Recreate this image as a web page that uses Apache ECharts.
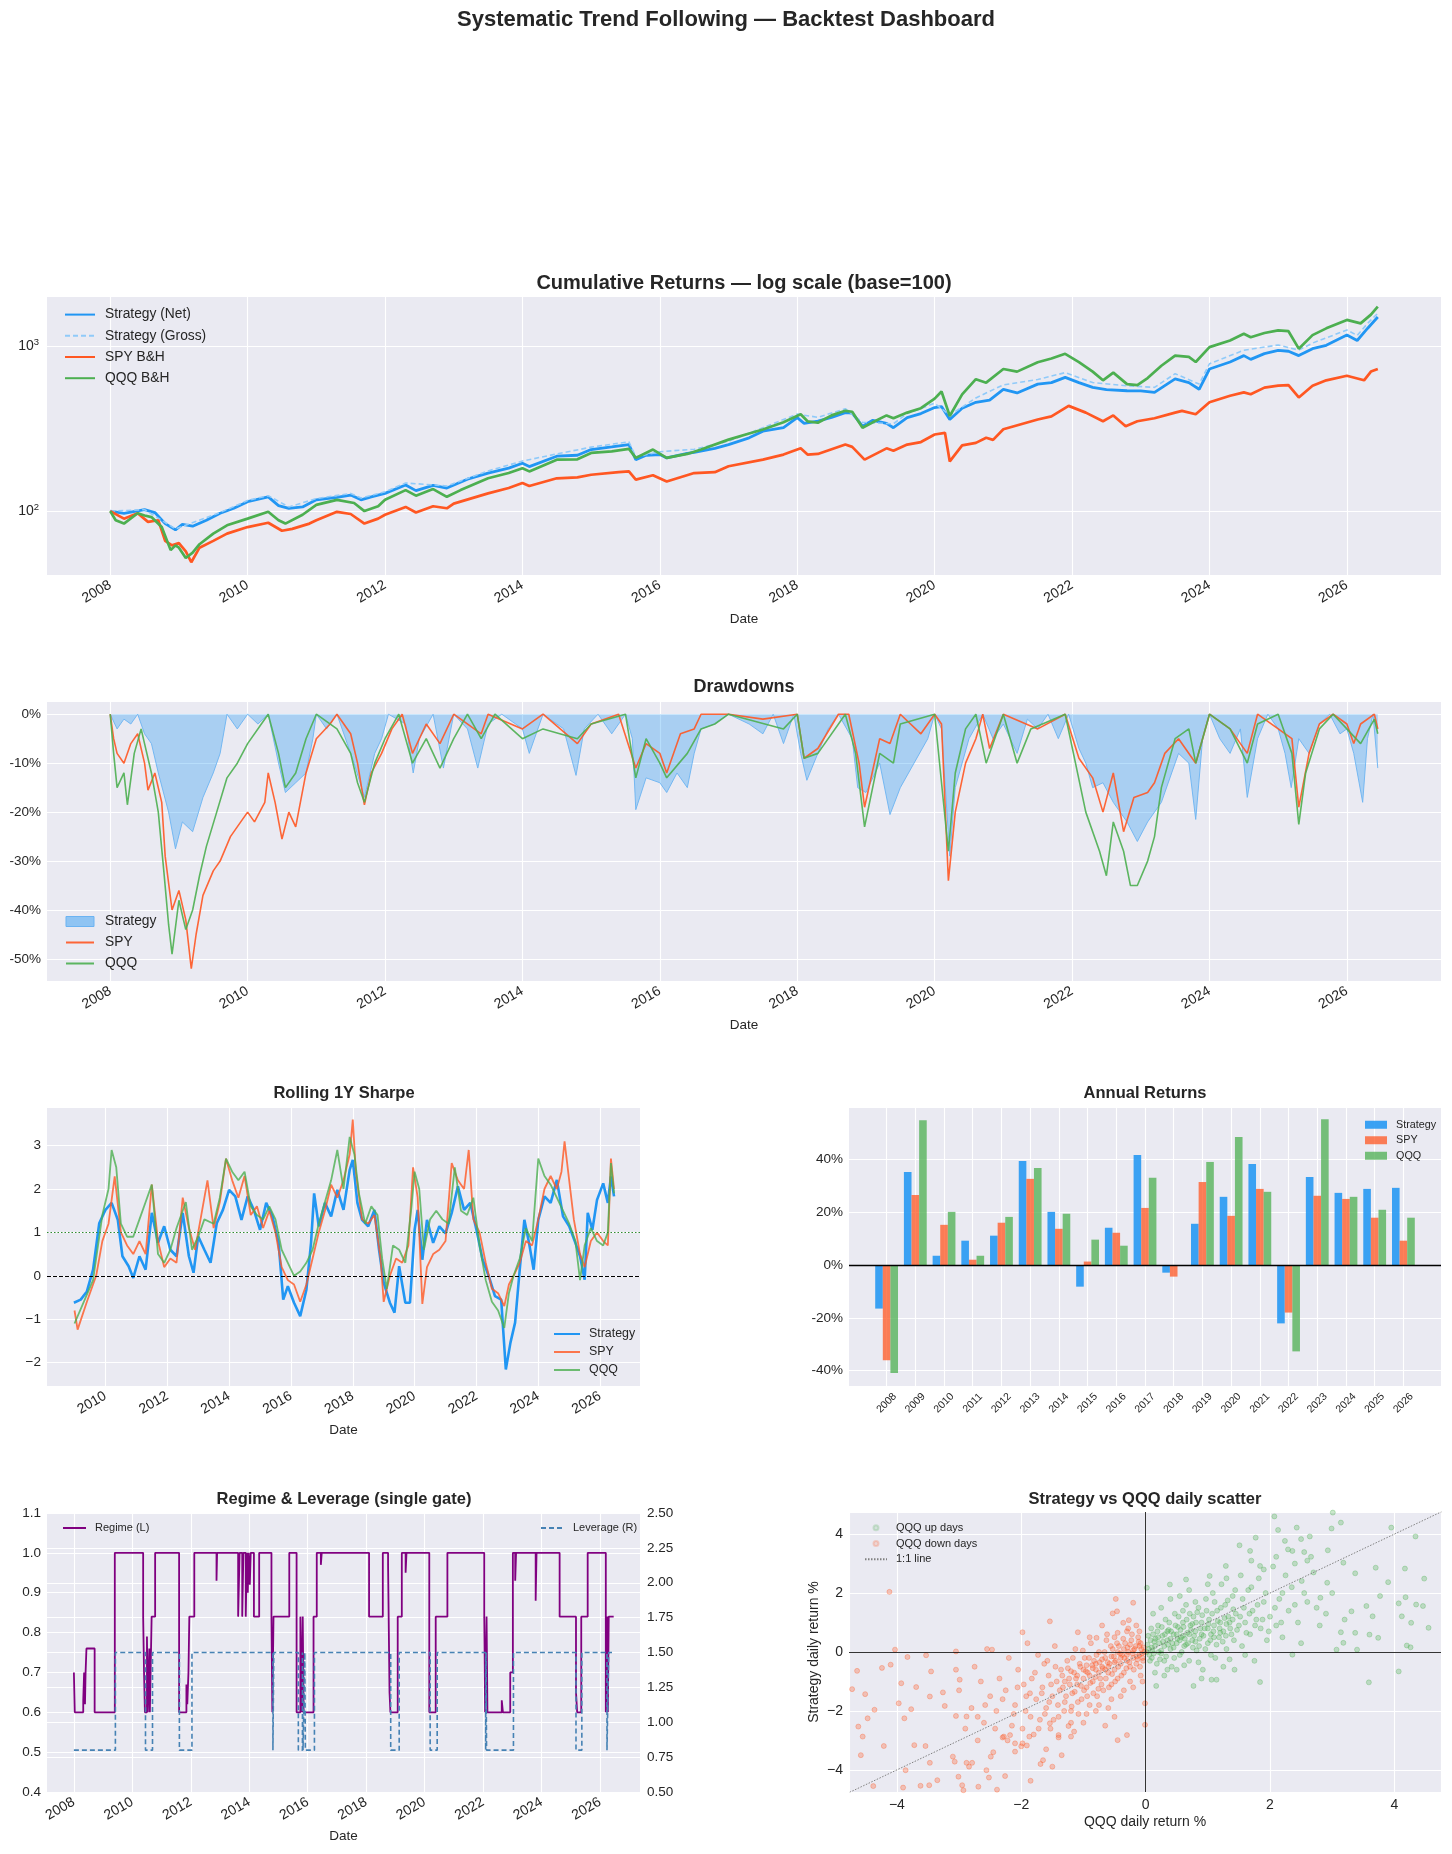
<!DOCTYPE html>
<html><head><meta charset="utf-8">
<script src="https://cdn.jsdelivr.net/npm/echarts@6/dist/echarts.min.js"></script>
<style>html,body{margin:0;padding:0;background:#fff}#c{width:1452px;height:1854px}</style>
</head><body><div id="c"></div>
<script>
// ---------------- DATA ----------------
const evenYears = [2008,2010,2012,2014,2016,2018,2020,2022,2024,2026];

const cumStrategyNet = [[2008.0,100],[2008.2,97],[2008.5,102],[2008.65,98],[2008.8,84],[2008.95,77],[2009.05,83],[2009.2,81],[2009.4,88],[2009.6,97],[2009.8,104],[2010.0,114],[2010.3,122],[2010.45,108],[2010.6,104],[2010.8,106],[2011.0,117],[2011.3,121],[2011.5,125],[2011.65,117],[2011.8,122],[2012.0,128],[2012.3,144],[2012.45,133],[2012.7,143],[2012.9,138],[2013.2,156],[2013.5,170],[2013.8,182],[2014.0,195],[2014.1,186],[2014.5,215],[2014.8,218],[2015.0,236],[2015.3,245],[2015.55,253],[2015.65,205],[2015.8,218],[2016.0,220],[2016.1,210],[2016.4,224],[2016.5,227],[2016.8,240],[2017.0,253],[2017.3,278],[2017.5,305],[2017.8,320],[2018.0,368],[2018.1,340],[2018.3,351],[2018.5,370],[2018.7,395],[2018.8,392],[2018.95,327],[2019.1,355],[2019.3,340],[2019.4,320],[2019.6,368],[2019.8,390],[2020.0,424],[2020.1,430],[2020.22,359],[2020.4,420],[2020.6,456],[2020.8,470],[2021.0,547],[2021.2,520],[2021.5,588],[2021.7,600],[2021.9,646],[2022.1,600],[2022.3,562],[2022.5,545],[2022.8,536],[2023.0,535],[2023.2,524],[2023.5,632],[2023.7,600],[2023.85,547],[2024.0,726],[2024.3,800],[2024.5,875],[2024.6,830],[2024.8,900],[2025.0,940],[2025.15,930],[2025.3,875],[2025.5,964],[2025.7,1010],[2026.0,1165],[2026.15,1080],[2026.3,1278],[2026.45,1500]];
const cumStrategyGross = [[2008.0,100],[2008.5,102],[2008.95,78],[2009.6,98],[2010.0,116],[2010.3,124],[2010.6,106],[2011.0,119],[2011.5,128],[2011.65,120],[2012.0,131],[2012.3,148],[2012.9,142],[2013.5,175],[2014.0,201],[2014.5,222],[2015.0,244],[2015.55,263],[2015.65,213],[2016.0,229],[2016.5,237],[2017.0,265],[2017.5,320],[2018.0,387],[2018.3,370],[2018.7,417],[2018.95,345],[2019.4,338],[2019.6,390],[2020.0,450],[2020.22,381],[2020.6,485],[2021.0,582],[2021.5,627],[2021.9,690],[2022.3,601],[2022.8,574],[2023.2,562],[2023.5,680],[2023.85,588],[2024.0,781],[2024.5,943],[2025.0,1015],[2025.3,945],[2025.5,1042],[2026.0,1250],[2026.15,1160],[2026.3,1370],[2026.45,1580]];
const cumSPY = [[2008.0,100],[2008.2,90],[2008.4,97],[2008.55,86],[2008.7,88],[2008.8,66],[2008.9,62],[2009.0,64],[2009.1,57],[2009.18,49],[2009.3,60],[2009.5,66],[2009.7,73],[2010.0,80],[2010.3,85],[2010.5,76],[2010.65,78],[2010.9,84],[2011.0,88],[2011.3,99],[2011.5,96],[2011.7,84],[2011.9,90],[2012.0,95],[2012.3,106],[2012.45,98],[2012.7,107],[2012.9,104],[2013.0,111],[2013.5,128],[2013.8,138],[2014.0,148],[2014.1,142],[2014.5,158],[2014.8,160],[2015.0,166],[2015.4,172],[2015.55,174],[2015.65,155],[2015.9,165],[2016.1,151],[2016.5,170],[2016.8,172],[2017.0,187],[2017.5,205],[2017.8,220],[2018.05,240],[2018.15,220],[2018.3,222],[2018.7,253],[2018.8,245],[2018.98,205],[2019.3,240],[2019.4,232],[2019.6,253],[2019.8,262],[2020.0,291],[2020.15,298],[2020.22,200],[2020.4,250],[2020.6,259],[2020.75,278],[2020.85,270],[2021.0,313],[2021.5,359],[2021.7,375],[2021.95,434],[2022.2,395],[2022.45,350],[2022.6,380],[2022.78,327],[2022.95,350],[2023.2,365],[2023.5,395],[2023.6,405],[2023.8,386],[2024.0,456],[2024.3,500],[2024.5,524],[2024.6,510],[2024.8,560],[2025.0,575],[2025.15,580],[2025.3,488],[2025.5,575],[2025.7,620],[2026.0,661],[2026.25,620],[2026.35,700],[2026.45,726]];
const cumQQQ = [[2008.0,100],[2008.08,88],[2008.2,84],[2008.4,97],[2008.5,94],[2008.6,92],[2008.75,80],[2008.88,58],[2008.95,62],[2009.0,60],[2009.1,52],[2009.2,56],[2009.3,63],[2009.5,73],[2009.7,82],[2010.0,90],[2010.3,99],[2010.45,88],[2010.55,84],[2010.8,95],[2011.0,109],[2011.3,117],[2011.55,112],[2011.7,100],[2011.9,107],[2012.0,117],[2012.3,134],[2012.45,124],[2012.7,136],[2012.9,122],[2013.1,134],[2013.5,158],[2013.8,170],[2014.0,182],[2014.1,174],[2014.5,205],[2014.8,206],[2015.0,225],[2015.3,230],[2015.55,238],[2015.65,210],[2015.9,236],[2016.1,210],[2016.4,222],[2016.6,236],[2017.0,271],[2017.3,295],[2017.5,312],[2017.8,345],[2018.05,386],[2018.15,350],[2018.3,343],[2018.5,380],[2018.7,405],[2018.8,400],[2018.95,320],[2019.1,345],[2019.3,380],[2019.4,365],[2019.6,395],[2019.8,420],[2020.0,480],[2020.1,530],[2020.22,377],[2020.4,510],[2020.6,630],[2020.75,600],[2021.0,726],[2021.2,700],[2021.5,797],[2021.7,840],[2021.9,897],[2022.1,800],[2022.3,700],[2022.45,620],[2022.6,690],[2022.8,588],[2022.95,580],[2023.1,640],[2023.3,760],[2023.5,875],[2023.7,860],[2023.8,800],[2024.0,985],[2024.3,1080],[2024.5,1188],[2024.6,1130],[2024.8,1200],[2025.0,1245],[2025.15,1230],[2025.3,964],[2025.5,1165],[2025.7,1280],[2026.0,1440],[2026.2,1372],[2026.35,1550],[2026.45,1734]];

const ddStrategy = [[2008.0,0],[2008.1,-3],[2008.2,-1],[2008.3,-2],[2008.4,0],[2008.5,-4],[2008.6,-6],[2008.7,-12],[2008.85,-20],[2008.95,-27.5],[2009.05,-22],[2009.2,-24],[2009.35,-17],[2009.5,-12],[2009.6,-8],[2009.7,0],[2009.85,-3],[2010.0,0],[2010.15,-2],[2010.3,0],[2010.45,-10],[2010.55,-16],[2010.7,-14],[2010.85,-12],[2010.95,-5],[2011.0,0],[2011.15,-3],[2011.3,0],[2011.45,-6],[2011.55,-10],[2011.7,-17],[2011.85,-8],[2011.95,-5],[2012.05,0],[2012.3,-2],[2012.41,-12],[2012.5,-5],[2012.7,0],[2012.85,-11],[2013.0,0],[2013.2,-3],[2013.35,-11],[2013.5,-2],[2013.7,0],[2014.0,-3],[2014.1,-8],[2014.3,0],[2014.6,-3],[2014.78,-12.5],[2014.9,-3],[2015.1,0],[2015.3,-4],[2015.5,0],[2015.6,-5],[2015.65,-19.5],[2015.8,-13],[2016.0,-14],[2016.1,-16],[2016.25,-12],[2016.4,-15],[2016.5,-8],[2016.6,-3],[2016.8,-2],[2017.0,0],[2017.3,-2],[2017.5,-4],[2017.65,0],[2017.8,-6],[2017.95,0],[2018.05,-8],[2018.14,-13.5],[2018.3,-8],[2018.45,-3],[2018.6,0],[2018.8,-5],[2018.88,-15],[2019.0,-16],[2019.2,-10],[2019.35,-20.5],[2019.5,-15],[2019.7,-10],[2019.9,-5],[2020.0,0],[2020.1,-3],[2020.22,-29],[2020.3,-15],[2020.5,-5],[2020.7,0],[2020.85,-5],[2021.0,-2],[2021.2,-8],[2021.35,-1],[2021.5,-3],[2021.65,0],[2021.8,-5],[2021.95,0],[2022.1,-7],[2022.2,-10],[2022.3,-15],[2022.45,-14],[2022.6,-18],[2022.7,-20],[2022.8,-22],[2022.95,-26],[2023.1,-22],[2023.3,-18],[2023.45,-12],[2023.55,-8],[2023.7,-10],[2023.8,-21.5],[2023.9,-5],[2024.0,0],[2024.15,-5],[2024.3,-8],[2024.45,-3],[2024.55,-17],[2024.7,-5],[2024.85,0],[2025.0,-3],[2025.1,-8],[2025.19,-15],[2025.3,-5],[2025.45,-8],[2025.6,-2],[2025.75,0],[2025.9,-4],[2026.0,-3],[2026.1,-8],[2026.23,-18],[2026.3,-5],[2026.38,0],[2026.45,-11]];
const ddSPY = [[2008.0,0],[2008.05,-5],[2008.1,-8],[2008.2,-10],[2008.3,-6],[2008.4,-4],[2008.5,-10],[2008.55,-15.5],[2008.65,-12],[2008.75,-18],[2008.8,-29],[2008.9,-40],[2008.95,-38],[2009.0,-36],[2009.1,-42],[2009.18,-52],[2009.25,-45],[2009.35,-37],[2009.5,-32],[2009.6,-30],[2009.75,-25],[2009.9,-22],[2010.0,-20],[2010.1,-22],[2010.25,-18],[2010.3,-12],[2010.4,-18],[2010.5,-25.5],[2010.6,-20],[2010.7,-23],[2010.85,-12],[2011.0,-5],[2011.2,-2],[2011.3,0],[2011.5,-4],[2011.6,-10],[2011.7,-18.5],[2011.8,-12],[2011.95,-8],[2012.1,-3],[2012.25,0],[2012.4,-8],[2012.6,-2],[2012.8,-6],[2013.0,0],[2013.4,-4],[2013.5,0],[2014.0,-3],[2014.3,0],[2014.8,-6],[2015.0,-2],[2015.4,0],[2015.65,-11],[2015.8,-6],[2016.0,-8],[2016.1,-12],[2016.3,-4],[2016.5,-3],[2016.6,0],[2017.0,0],[2017.5,-1],[2018.0,0],[2018.1,-9],[2018.3,-7],[2018.6,0],[2018.75,0],[2018.9,-10],[2018.98,-19],[2019.2,-5],[2019.35,-6],[2019.5,0],[2019.8,-4],[2020.0,0],[2020.1,-2],[2020.2,-34],[2020.3,-20],[2020.45,-10],[2020.6,-5],[2020.7,0],[2020.8,-7],[2021.0,0],[2021.5,-3],[2021.9,0],[2022.1,-9],[2022.3,-13],[2022.45,-20],[2022.6,-12],[2022.75,-24],[2022.9,-17],[2023.1,-16],[2023.2,-14],[2023.35,-8],[2023.55,-5],[2023.8,-10],[2024.0,0],[2024.3,-3],[2024.55,-8],[2024.7,0],[2025.2,-5],[2025.3,-19],[2025.45,-8],[2025.6,-2],[2025.8,0],[2026.0,-2],[2026.1,-6],[2026.2,-2],[2026.4,0],[2026.45,-3]];
const ddQQQ = [[2008.0,0],[2008.05,-8],[2008.1,-15],[2008.2,-12],[2008.25,-18.5],[2008.35,-8],[2008.45,-3],[2008.5,-6],[2008.6,-12],[2008.7,-20],[2008.78,-32],[2008.85,-43],[2008.9,-49],[2009.0,-38],[2009.1,-44],[2009.2,-40],[2009.3,-33],[2009.4,-27],[2009.55,-20],[2009.7,-13],[2009.85,-10],[2010.0,-6],[2010.2,-2],[2010.3,0],[2010.45,-8],[2010.55,-15],[2010.7,-12],[2010.85,-5],[2011.0,0],[2011.3,-3],[2011.5,-8],[2011.6,-14],[2011.7,-18],[2011.85,-10],[2012.0,-5],[2012.2,0],[2012.4,-10],[2012.6,-5],[2012.8,-11],[2013.0,-5],[2013.2,0],[2013.4,-5],[2013.6,0],[2014.0,-5],[2014.3,-3],[2014.8,-5],[2015.0,-2],[2015.5,0],[2015.65,-13],[2015.8,-5],[2016.0,-10],[2016.1,-13],[2016.4,-8],[2016.6,-3],[2016.8,-2],[2017.0,0],[2017.8,-3],[2018.0,0],[2018.1,-9],[2018.3,-8],[2018.7,0],[2018.85,-8],[2018.98,-23],[2019.2,-8],[2019.4,-10],[2019.5,-2],[2020.0,0],[2020.2,-28],[2020.3,-12],[2020.45,-3],[2020.6,0],[2020.75,-10],[2020.9,-4],[2021.0,0],[2021.2,-10],[2021.4,-3],[2021.9,0],[2022.05,-10],[2022.2,-20],[2022.4,-28],[2022.5,-33],[2022.6,-22],[2022.75,-28],[2022.85,-35],[2022.95,-35],[2023.1,-30],[2023.2,-25],[2023.3,-15],[2023.5,-5],[2023.7,-3],[2023.8,-10],[2024.0,0],[2024.3,-3],[2024.55,-10],[2024.7,-2],[2025.0,0],[2025.2,-8],[2025.3,-22.5],[2025.4,-12],[2025.6,-3],[2025.8,0],[2026.0,-3],[2026.2,-6],[2026.4,-1],[2026.45,-4]];

const sharpeStrategy = [[2008.98,-0.62],[2009.2,-0.55],[2009.4,-0.36],[2009.6,0.14],[2009.8,1.21],[2010.0,1.52],[2010.2,1.68],[2010.4,1.29],[2010.55,0.45],[2010.75,0.22],[2010.9,-0.05],[2011.1,0.45],[2011.3,0.14],[2011.5,1.45],[2011.7,0.76],[2011.9,1.14],[2012.1,0.6],[2012.3,0.45],[2012.5,1.45],[2012.7,0.45],[2012.85,0.07],[2013.0,0.91],[2013.2,0.6],[2013.4,0.3],[2013.6,1.21],[2013.8,1.52],[2014.0,1.98],[2014.2,1.83],[2014.4,1.29],[2014.6,1.83],[2014.8,1.52],[2015.0,1.06],[2015.2,1.68],[2015.4,1.37],[2015.6,0.76],[2015.75,-0.55],[2015.9,-0.24],[2016.1,-0.62],[2016.3,-0.93],[2016.5,-0.32],[2016.65,0.76],[2016.75,1.9],[2016.9,1.14],[2017.1,1.68],[2017.3,1.37],[2017.5,1.98],[2017.7,1.52],[2017.9,2.44],[2018.0,2.67],[2018.15,1.68],[2018.3,1.29],[2018.5,1.14],[2018.7,1.52],[2018.85,0.6],[2019.0,-0.16],[2019.2,-0.62],[2019.35,-0.85],[2019.5,0.22],[2019.7,-0.62],[2019.85,-0.62],[2020.0,1.06],[2020.1,1.52],[2020.25,0.37],[2020.4,1.29],[2020.6,0.76],[2020.8,1.14],[2021.0,0.98],[2021.2,1.45],[2021.4,2.06],[2021.6,1.52],[2021.8,1.68],[2022.0,1.06],[2022.2,0.37],[2022.4,-0.01],[2022.6,-0.47],[2022.8,-0.55],[2022.95,-2.16],[2023.1,-1.54],[2023.25,-1.08],[2023.4,0.14],[2023.55,1.29],[2023.7,0.76],[2023.85,0.14],[2024.0,1.29],[2024.2,1.83],[2024.4,1.68],[2024.6,2.21],[2024.8,1.37],[2025.0,1.14],[2025.2,0.76],[2025.35,0.45],[2025.5,-0.09],[2025.6,1.45],[2025.75,1.06],[2025.9,1.75],[2026.1,2.13],[2026.25,1.68],[2026.35,2.29],[2026.45,1.83]];
const sharpeSPY = [[2009.0,-0.8],[2009.1,-1.24],[2009.4,-0.6],[2009.7,0.0],[2009.9,0.8],[2010.1,1.2],[2010.3,2.29],[2010.5,1.0],[2010.7,0.7],[2010.9,0.5],[2011.1,0.8],[2011.3,0.5],[2011.5,2.1],[2011.7,0.8],[2011.9,0.2],[2012.1,0.4],[2012.3,0.3],[2012.5,1.8],[2012.7,1.1],[2012.9,0.6],[2013.1,1.4],[2013.3,2.2],[2013.5,1.1],[2013.7,1.7],[2013.9,2.7],[2014.1,2.2],[2014.3,1.8],[2014.5,2.3],[2014.7,1.4],[2014.9,1.6],[2015.1,1.1],[2015.3,1.5],[2015.5,1.0],[2015.7,0.2],[2015.9,-0.1],[2016.1,-0.2],[2016.3,-0.6],[2016.5,-0.2],[2016.7,0.4],[2016.9,1.0],[2017.1,1.5],[2017.3,2.1],[2017.5,1.8],[2017.7,2.2],[2017.9,2.8],[2018.0,3.6],[2018.1,2.4],[2018.3,1.3],[2018.5,1.2],[2018.7,1.4],[2018.9,0.4],[2019.0,-0.6],[2019.2,0.0],[2019.4,0.4],[2019.6,0.3],[2019.8,0.7],[2019.95,2.5],[2020.1,1.8],[2020.25,-0.65],[2020.4,0.2],[2020.6,0.5],[2020.8,0.6],[2021.0,0.8],[2021.2,2.6],[2021.4,2.2],[2021.6,2.0],[2021.75,2.9],[2021.9,1.3],[2022.1,1.0],[2022.3,0.3],[2022.5,-0.3],[2022.7,-0.4],[2022.9,-0.7],[2023.05,-0.2],[2023.2,0.0],[2023.4,0.3],[2023.6,0.8],[2023.8,0.7],[2024.0,1.3],[2024.2,2.0],[2024.4,2.3],[2024.6,2.0],[2024.75,2.4],[2024.85,3.1],[2025.0,2.2],[2025.15,1.3],[2025.35,0.5],[2025.5,0.2],[2025.7,0.8],[2025.9,1.0],[2026.1,0.8],[2026.25,0.7],[2026.35,2.7],[2026.45,2.0]];
const sharpeQQQ = [[2009.0,-1.1],[2009.3,-0.6],[2009.6,-0.1],[2009.9,1.4],[2010.1,2.0],[2010.2,2.9],[2010.35,2.5],[2010.5,1.2],[2010.7,0.9],[2010.9,0.9],[2011.1,1.3],[2011.3,1.7],[2011.5,2.1],[2011.7,0.5],[2011.9,0.3],[2012.1,0.6],[2012.3,1.1],[2012.6,1.7],[2012.8,0.6],[2013.0,0.9],[2013.2,1.3],[2013.5,1.2],[2013.7,1.8],[2013.9,2.7],[2014.1,2.4],[2014.3,2.2],[2014.5,2.4],[2014.7,1.6],[2014.9,1.4],[2015.1,1.3],[2015.3,1.6],[2015.5,1.3],[2015.7,0.6],[2015.9,0.3],[2016.1,0.0],[2016.3,0.1],[2016.5,0.3],[2016.7,0.6],[2016.9,1.2],[2017.1,1.7],[2017.3,2.2],[2017.5,2.9],[2017.7,2.0],[2017.9,3.2],[2018.05,2.8],[2018.2,1.9],[2018.4,1.2],[2018.6,1.6],[2018.8,1.4],[2018.95,0.4],[2019.1,-0.3],[2019.3,0.7],[2019.5,0.6],[2019.7,0.3],[2019.9,1.6],[2020.0,2.4],[2020.15,2.0],[2020.3,0.6],[2020.5,1.3],[2020.7,1.5],[2020.9,1.3],[2021.1,1.2],[2021.3,2.5],[2021.5,1.5],[2021.7,1.4],[2021.9,1.8],[2022.1,0.7],[2022.3,-0.1],[2022.5,-0.6],[2022.7,-0.8],[2022.9,-1.2],[2023.05,-0.4],[2023.2,0.0],[2023.4,0.4],[2023.6,1.1],[2023.8,0.8],[2024.0,2.7],[2024.2,2.3],[2024.4,2.1],[2024.6,1.8],[2024.8,1.5],[2025.0,1.2],[2025.2,0.8],[2025.35,-0.1],[2025.5,0.7],[2025.7,1.1],[2025.9,0.8],[2026.1,0.7],[2026.25,1.0],[2026.35,2.6],[2026.45,1.9]];

const annualYears = ['2008','2009','2010','2011','2012','2013','2014','2015','2016','2017','2018','2019','2020','2021','2022','2023','2024','2025','2026'];
const annualStrategy = [-16.5,35.2,3.5,9.2,11.1,39.4,20.1,-8.2,14.1,41.6,-2.9,15.6,25.8,38.2,-22.1,33.3,27.3,28.8,29.2];
const annualSPY = [-36.1,26.5,15.2,2.0,16.0,32.6,13.7,1.3,12.2,21.6,-4.4,31.4,18.6,28.8,-18.0,26.2,25.0,17.9,9.2];
const annualQQQ = [-40.9,54.8,20.1,3.5,18.2,36.7,19.4,9.6,7.3,33.0,-0.1,39.0,48.4,27.7,-32.7,55.2,25.8,20.9,17.9];

const regimeSteps = [[2008.0,0.7],[2008.03,0.6],[2008.32,0.63],[2008.35,0.7],[2008.38,0.62],[2008.4,0.7],[2008.43,0.76],[2008.71,0.6],[2009.4,1.0],[2010.37,0.84],[2010.4,0.7],[2010.43,0.6],[2010.5,0.79],[2010.53,0.6],[2010.58,0.76],[2010.6,0.6],[2010.66,0.84],[2010.78,1.0],[2011.6,0.6],[2011.85,0.67],[2011.88,0.62],[2011.92,0.7],[2011.95,0.84],[2012.12,1.0],[2012.88,0.93],[2012.9,1.0],[2013.62,0.84],[2013.67,1.0],[2013.76,0.84],[2013.8,1.0],[2013.88,0.84],[2013.92,1.0],[2013.95,0.9],[2013.98,1.0],[2014.02,0.92],[2014.05,1.0],[2014.16,0.84],[2014.34,1.0],[2014.76,0.84],[2014.79,0.6],[2014.83,0.84],[2015.37,1.0],[2015.62,0.6],[2015.75,0.84],[2015.8,0.6],[2015.83,0.84],[2015.86,0.6],[2016.2,0.84],[2016.31,1.0],[2016.45,0.97],[2016.48,1.0],[2018.1,0.84],[2018.57,1.0],[2018.75,0.97],[2018.8,0.65],[2018.83,0.6],[2019.08,0.84],[2019.22,1.0],[2019.35,0.95],[2019.38,1.0],[2020.16,0.6],[2020.38,0.84],[2020.78,1.0],[2022.04,0.84],[2022.07,0.6],[2022.12,0.84],[2022.15,0.6],[2022.64,0.63],[2022.68,0.6],[2022.93,0.7],[2023.02,1.0],[2023.1,0.93],[2023.13,1.0],[2023.8,0.88],[2023.83,1.0],[2024.62,0.84],[2025.18,0.65],[2025.22,0.6],[2025.36,0.84],[2025.58,1.0],[2026.2,0.6],[2026.24,0.84],[2026.27,0.6],[2026.3,0.84],[2026.47,0.84]];
const leverageSteps = [[2008.0,0.8],[2009.42,1.5],[2010.45,0.8],[2010.69,1.5],[2011.61,0.8],[2012.04,1.5],[2014.81,0.8],[2014.84,1.5],[2015.68,0.8],[2015.82,1.5],[2015.84,0.8],[2015.9,1.5],[2015.92,0.8],[2016.23,1.5],[2018.84,0.8],[2019.13,1.5],[2020.19,0.8],[2020.43,1.5],[2022.09,0.8],[2022.1,1.5],[2022.12,0.8],[2023.04,1.5],[2025.18,0.8],[2025.38,1.5],[2026.24,0.8],[2026.3,1.5],[2026.47,1.5]];

const qqqUpDays = [[3.01,4.73],[2.07,4.6],[3.14,4.39],[2.13,4.14],[2.43,4.22],[2.99,4.19],[3.95,4.22],[4.34,3.92],[1.77,3.88],[2.64,3.92],[2.5,3.83],[2.24,3.77],[1.51,3.62],[2.29,3.48],[2.93,3.45],[1.68,3.43],[2.36,3.43],[2.55,3.39],[2.1,3.23],[2.66,3.23],[3.18,3.03],[1.84,2.92],[1.29,2.92],[4.17,2.83],[3.7,2.86],[4.48,2.49],[3.37,2.67],[2.92,2.35],[3.9,2.37],[4.18,1.86],[3.77,1.9],[4.07,1.65],[4.35,1.61],[4.46,1.56],[2.81,1.84],[3.55,1.56],[3.31,1.38],[4.12,1.21],[4.27,0.99],[4.55,0.82],[3.65,1.21],[3.2,1.1],[3.37,0.65],[3.14,0.67],[3.6,0.59],[3.74,0.48],[4.2,0.22],[4.26,0.16],[3.18,0.31],[3.07,0.08],[3.4,0.08],[2.36,-0.09],[4.07,-0.66],[3.59,-1.03],[1.84,-1.02],[1.43,-0.6],[1.06,-0.94],[1.14,-0.94],[0.77,-1.15],[0.17,-1.15],[0.02,2.18],[0.39,2.29],[0.65,2.46],[1.03,2.58],[2.51,2.41],
[0.05,0.1],[0.08,0.4],[0.1,-0.2],[0.12,0.6],[0.15,0.2],[0.18,-0.4],[0.2,0.9],[0.22,0.3],[0.25,0.05],[0.27,0.55],[0.3,-0.3],[0.32,1.1],[0.35,0.4],[0.37,0.75],[0.4,0.1],[0.42,-0.5],[0.45,0.6],[0.47,1.3],[0.5,0.3],[0.52,0.85],[0.55,-0.1],[0.57,0.5],[0.6,1.0],[0.62,0.2],[0.65,1.6],[0.67,0.65],[0.7,-0.3],[0.72,0.9],[0.75,0.4],[0.77,1.2],[0.8,0.7],[0.82,0.05],[0.85,1.5],[0.87,0.45],[0.9,1.0],[0.92,-0.6],[0.95,0.8],[0.97,1.8],[1.0,0.3],[1.02,1.1],[1.05,0.6],[1.08,2.0],[1.1,0.9],[1.12,-0.2],[1.15,1.4],[1.18,0.5],[1.2,1.0],[1.22,2.3],[1.25,0.7],[1.28,1.6],[1.3,0.1],[1.33,1.2],[1.36,0.8],[1.4,1.9],[1.42,0.4],[1.45,1.3],[1.5,0.9],[1.53,2.6],[1.55,0.2],[1.58,1.5],[1.6,1.0],[1.65,2.1],[1.68,0.6],[1.72,1.4],[1.75,-0.3],[1.78,1.1],[1.82,2.5],[1.85,0.8],[1.9,1.7],[1.95,0.4],[2.0,1.2],[2.05,2.9],[2.1,0.9],[2.15,1.8],[2.2,0.5],[2.3,1.4],[2.35,2.2],[2.45,1.0],[2.5,0.3],[2.6,1.7],[2.7,2.7],[2.8,0.9],[2.9,1.3],[3.0,2.0],
[0.02,0.0],[0.03,0.25],[0.06,-0.1],[0.1,0.15],[0.14,0.35],[0.2,0.5],[0.25,-0.05],[0.3,0.2],[0.35,0.7],[0.4,0.45],[0.45,0.15],[0.5,0.6],[0.55,0.4],[0.6,0.55],[0.65,0.25],[0.7,0.6],[0.75,0.95],[0.8,0.35],[0.9,0.6],[1.0,0.8],[1.1,0.5],[1.2,0.65],[1.3,0.95],[1.4,1.1],[0.15,-0.7],[0.3,-0.8],[0.5,-0.6],[0.6,1.4],[0.4,1.8],[0.8,1.7],[1.0,2.3],[1.3,2.5],[0.9,-0.9],[1.25,-0.5],[1.6,-0.1],[2.2,2.0],[2.4,3.0],[1.7,3.1],[1.9,2.8],[2.6,3.1],
[0.04,0.55],[0.07,-0.3],[0.09,0.8],[0.11,0.05],[0.13,-0.05],[0.16,0.45],[0.19,0.7],[0.21,0.0],[0.23,-0.25],[0.26,0.85],[0.28,0.35],[0.31,0.6],[0.33,-0.15],[0.36,0.25],[0.38,1.0],[0.41,0.7],[0.43,0.3],[0.46,-0.2],[0.48,0.9],[0.51,0.45],[0.53,1.2],[0.56,0.75],[0.58,0.0],[0.61,0.85],[0.63,0.45],[0.66,1.1],[0.68,0.3],[0.71,1.3],[0.73,0.75],[0.76,0.15],[0.78,0.55],[0.81,1.0],[0.83,1.35],[0.86,0.2],[0.88,0.8],[0.91,1.25],[0.93,0.55],[0.96,0.1],[0.98,1.4],[1.01,0.95],[1.04,0.4],[1.07,1.3],[1.09,0.7],[1.11,1.7],[1.14,0.25],[1.16,1.05],[1.19,0.8],[1.21,1.5],[1.24,0.35],[1.27,1.15],[1.29,0.55],[1.32,1.75],[1.35,1.0],[1.38,0.6],[1.41,1.45],[1.44,2.1],[1.47,0.75],[1.52,1.2],[1.56,1.8],[1.62,0.65],[1.67,1.3],[1.7,2.2],[1.76,0.9],[1.8,1.6],[1.88,1.1],[1.93,2.0],[1.98,0.7],[2.08,1.5],[2.18,1.0],[2.25,2.6],[2.4,1.6],[2.55,2.0],[2.75,1.5],[0.12,1.3],[0.25,1.5],[0.55,1.9],[0.7,2.1],[0.35,-0.6],[0.62,-0.45],[0.85,-0.35],[1.05,-0.1],[1.35,-0.25]];
const qqqDownDays = [[-4.12,2.04],[-4.64,-0.64],[-4.72,-1.26],[-4.51,-1.43],[-4.36,-1.96],[-4.47,-2.25],[-4.62,-2.53],[-4.55,-2.87],[-4.21,-3.19],[-4.58,-3.5],[-4.38,-4.55],[-3.9,-4.6],[-4.03,0.08],[-4.1,-0.43],[-4.24,-0.54],[-3.83,-0.17],[-3.93,-1.06],[-3.69,-1.19],[-3.88,-2.25],[-3.77,-1.94],[-3.97,-1.74],[-3.72,-3.16],[-3.54,-3.19],[-3.47,-3.76],[-3.86,-4.01],[-3.62,-4.54],[-3.48,-4.52],[-3.35,-4.35],[-3.53,-0.11],[-3.45,-0.66],[-3.47,-1.51],[-3.26,-1.37],[-3.23,-1.83],[-3.05,-2.17],[-2.88,-2.19],[-3.05,0.02],[-3.05,-0.6],[-2.99,-0.94],[-3.1,-3.55],[-3.07,-3.72],[-3.01,-4.23],[-2.95,-4.52],[-2.93,-4.69],[-2.88,-3.76],[-2.79,-3.76],[-2.84,-3.89],[-2.69,-4.57],[-2.56,-4.01],[-2.52,-4.26],[-2.39,-4.67],[-2.26,-4.21],[-2.49,-3.55],[-2.47,0.08],[-1.98,0.67],[-1.54,1.04],[-1.09,0.67],[-0.79,0.48],[-0.48,1.8],[-0.2,1.67],[-0.53,1.31],[-0.46,1.38],[-0.36,0.99],[-0.27,1.08],[-0.45,-2.99],[-0.3,-2.82],[-0.01,-2.47],[-0.01,-1.74],[-1.5,-3.89],[-1.65,-3.67],[-1.69,-3.8],[-1.85,-4.37],[-1.98,-3.1],[-2.1,-3.1],[-2.1,-3.38],[-1.91,-3.17],[-1.87,-2.87],[-2.28,-2.87],[-2.18,-2.82],[-1.24,-2.51],[-1.2,-2.87],[-1.54,-2.42],[-1.4,-2.82],
[-0.02,0.0],[-0.05,-0.2],[-0.08,0.3],[-0.1,-0.1],[-0.12,0.5],[-0.15,-0.4],[-0.18,0.1],[-0.2,-0.2],[-0.22,0.6],[-0.25,-0.5],[-0.28,0.0],[-0.3,-0.3],[-0.33,0.3],[-0.35,-0.7],[-0.38,-0.1],[-0.4,-0.4],[-0.43,0.2],[-0.45,-0.9],[-0.48,-0.3],[-0.5,-0.6],[-0.53,0.1],[-0.55,-1.1],[-0.58,-0.4],[-0.6,-0.7],[-0.63,0.4],[-0.65,-0.2],[-0.68,-1.3],[-0.7,-0.5],[-0.73,-0.9],[-0.75,0.0],[-0.78,-1.5],[-0.8,-0.6],[-0.83,-0.3],[-0.85,-1.0],[-0.88,0.3],[-0.9,-1.8],[-0.93,-0.7],[-0.95,-1.2],[-0.98,-0.2],[-1.0,-0.9],[-1.03,-1.6],[-1.05,-0.5],[-1.08,-2.1],[-1.1,-1.1],[-1.13,0.1],[-1.15,-0.7],[-1.18,-1.4],[-1.2,-2.4],[-1.23,-0.9],[-1.26,-0.3],[-1.3,-1.7],[-1.33,-1.2],[-1.36,-0.6],[-1.4,-2.2],[-1.43,-1.0],[-1.46,0.2],[-1.5,-1.5],[-1.53,-2.6],[-1.56,-0.8],[-1.6,-1.9],[-1.63,-0.4],[-1.66,-1.2],[-1.7,-2.3],[-1.73,-0.1],[-1.76,-1.6],[-1.8,-2.8],[-1.83,-0.9],[-1.86,-1.4],[-1.9,0.3],[-1.93,-2.0],[-1.96,-1.1],[-2.0,-3.2],[-2.05,-0.6],[-2.1,-1.8],[-2.15,-2.5],[-2.2,-0.2],[-2.25,-1.3],[-2.3,-2.9],[-2.35,-0.9],[-2.4,-2.0],[-2.45,-3.4],[-2.5,-1.5],[-2.55,0.1],[-2.6,-2.4],[-2.65,-1.0],[-2.7,-3.0],[-2.75,-0.5],[-2.8,-1.9],[-2.9,-2.6],[-3.0,-1.3],
[-0.03,0.15],[-0.06,-0.05],[-0.1,0.2],[-0.14,-0.15],[-0.2,0.05],[-0.25,0.25],[-0.3,-0.1],[-0.35,0.1],[-0.4,-0.2],[-0.45,0.0],[-0.5,-0.35],[-0.55,-0.15],[-0.6,-0.5],[-0.65,-0.6],[-0.7,-0.25],[-0.75,-0.7],[-0.8,-0.4],[-0.85,-0.55],[-0.9,-0.8],[-0.95,-0.45],[-1.0,-0.6],[-1.1,-0.8],[-1.2,-0.65],[-1.3,-1.0],[-0.15,0.9],[-0.3,0.7],[-0.5,0.5],[-0.05,-1.0],[-0.2,-1.2],[-0.4,-1.5],[-0.6,-1.9],[-0.7,0.9],[-0.9,0.5],[-1.2,-2.0],[-1.4,-2.9],[-1.0,-2.4],[-0.8,-2.0],[-1.6,-3.3],[-1.35,-3.5],[-0.5,-2.2],
[-0.04,-0.3],[-0.07,0.1],[-0.09,-0.5],[-0.11,0.35],[-0.13,-0.25],[-0.16,0.2],[-0.19,-0.6],[-0.21,-0.05],[-0.23,0.4],[-0.26,-0.35],[-0.29,0.15],[-0.31,-0.55],[-0.34,-0.2],[-0.36,0.45],[-0.39,-0.8],[-0.41,-0.05],[-0.44,-0.5],[-0.46,0.3],[-0.49,-1.0],[-0.51,-0.15],[-0.54,-0.75],[-0.56,0.2],[-0.59,-1.2],[-0.61,-0.35],[-0.64,-0.9],[-0.66,0.0],[-0.69,-0.55],[-0.71,-1.1],[-0.74,-0.35],[-0.76,-1.25],[-0.79,-0.1],[-0.81,-0.85],[-0.84,-1.4],[-0.86,-0.45],[-0.89,-1.05],[-0.91,-0.2],[-0.94,-1.5],[-0.96,-0.65],[-0.99,-1.3],[-1.01,0.05],[-1.04,-1.15],[-1.06,-0.4],[-1.09,-1.7],[-1.12,-0.9],[-1.14,-1.35],[-1.17,-0.2],[-1.19,-1.85],[-1.22,-1.1],[-1.25,-0.55],[-1.28,-1.5],[-1.31,-2.0],[-1.34,-0.8],[-1.38,-1.3],[-1.41,-1.8],[-1.45,-0.5],[-1.48,-2.3],[-1.52,-1.1],[-1.55,-1.7],[-1.58,-0.3],[-1.62,-2.1],[-1.67,-1.4],[-1.72,-2.6],[-1.78,-0.7],[-1.85,-2.2],[-1.92,-1.5],[-1.98,-2.6],[-2.06,-1.2],[-2.12,-2.1],[-2.22,-3.0],[-2.3,-1.6],[-2.42,-2.6],[-2.58,-1.8],[-2.7,-2.2],[-0.1,0.7],[-0.28,0.8],[-0.45,0.65],[-0.62,0.6],[-0.08,-0.8],[-0.25,-1.0],[-0.35,-1.3],[-0.55,-1.6],[-0.75,-1.8],[-0.95,-2.1],[-1.15,-2.7],[-0.65,-2.5]];

// ---------------- STYLE ----------------
const FONT = '"Liberation Sans", Arial, sans-serif';
const TXT = '#262626';
const BG = '#EAEAF2';
const C_STRAT = '#2196F3', C_SPY = '#FF5722', C_QQQ = '#4CAF50', C_GROSS = '#90CAF9';
const SCAT_LIM = 4.76;
const MINUS = s => String(s).replace('-', '\u2212');

const chart = echarts.init(document.getElementById('c'), null, {renderer: 'canvas'});

const grid = [
  {left:47, top:296, width:1394, height:279},
  {left:47, top:701, width:1394, height:280},
  {left:47, top:1107, width:593, height:279},
  {left:849, top:1107, width:592, height:279},
  {left:47, top:1513, width:593, height:279},
  {left:849, top:1512, width:592, height:280}
].map(g => Object.assign(g, {show:true, backgroundColor:BG, borderWidth:0}));

const split = {show:true, lineStyle:{color:'#ffffff', width:1.1}};
const lbl = (o) => Object.assign({color:TXT, fontFamily:FONT, fontSize:13.5}, o);

function timeX(gi, min, max) {
  return {
    type:'value', gridIndex:gi, min, max,
    axisLine:{show:false}, axisTick:{show:false, customValues:evenYears},
    axisLabel:lbl({customValues:evenYears, rotate:30, margin:9, fontSize:14, formatter:v => String(Math.round(v))}),
    splitLine:Object.assign({customValues:evenYears}, split),
    name:'Date', nameLocation:'middle', nameGap:37,
    nameTextStyle:{color:TXT, fontFamily:FONT, fontSize:13.5}
  };
}
function valY(gi, o) {
  return Object.assign({
    type:'value', gridIndex:gi, scale:true,
    axisLine:{show:false}, axisTick:{show:false},
    axisLabel:lbl({margin:6, showMinLabel:false, showMaxLabel:false}),
    splitLine:split
  }, o);
}

const catIdx = annualYears.map((_, i) => i);
const xAxis = [
  timeX(0, 2007.08, 2027.37),
  timeX(1, 2007.08, 2027.37),
  timeX(2, 2008.11, 2027.29),
  {type:'value', gridIndex:3, min:-1.31, max:19.31,
   axisLine:{show:false}, axisTick:{show:false, customValues:catIdx},
   axisLabel:lbl({customValues:catIdx, rotate:45, align:'center', verticalAlign:'middle', margin:17, fontSize:10.5, formatter:v => annualYears[Math.round(v)] || ''}),
   splitLine:Object.assign({customValues:catIdx}, split)},
  timeX(4, 2007.08, 2027.37),
  {type:'value', gridIndex:5, min:-4.77, max:4.75,
   axisLine:{show:false}, axisTick:{show:false},
   axisLabel:lbl({fontSize:14, margin:6, showMinLabel:false, showMaxLabel:false, formatter:v => MINUS(v)}),
   splitLine:split,
   name:'QQQ daily return %', nameLocation:'middle', nameGap:23,
   nameTextStyle:{color:TXT, fontFamily:FONT, fontSize:14}}
];

const yAxis = [
  {type:'log', logBase:10, gridIndex:0, min:41, max:2010,
   axisLine:{show:false}, axisTick:{show:false}, minorTick:{show:false}, minorSplitLine:{show:false},
   axisLabel:{color:TXT, fontFamily:FONT, fontSize:14, margin:8, showMinLabel:false, showMaxLabel:false,
     formatter:v => { const l = Math.log10(v), e = Math.round(l); return Math.abs(l - e) < 0.01 ? '10{s|' + e + '}' : ''; },
     rich:{s:{fontSize:9.5, fontFamily:FONT, color:TXT, verticalAlign:'top', padding:[0,0,7,0]}}},
   splitLine:split},
  valY(1, {min:-54.5, max:2.7, axisLabel:lbl({margin:6, showMinLabel:false, showMaxLabel:false, formatter:v => v + '%'})}),
  valY(2, {min:-2.54, max:3.89, axisLabel:lbl({margin:6, showMinLabel:false, showMaxLabel:false, formatter:v => MINUS(v)})}),
  valY(3, {min:-45.8, max:59.8, axisLabel:lbl({margin:6, showMinLabel:false, showMaxLabel:false, formatter:v => v + '%'})}),
  valY(4, {min:0.4, max:1.1, interval:0.1, axisLabel:lbl({margin:6, fontSize:13.5, formatter:v => v.toFixed(1)})}),
  valY(4, {position:'right', min:0.5, max:2.5, interval:0.25, axisLabel:lbl({margin:7, fontSize:13.5, formatter:v => v.toFixed(2)})}),
  valY(5, {min:-4.75, max:4.75, axisLabel:lbl({margin:6, fontSize:14, showMinLabel:false, showMaxLabel:false, formatter:v => MINUS(v)}),
   name:'Strategy daily return %', nameLocation:'middle', nameGap:28,
   nameTextStyle:{color:TXT, fontFamily:FONT, fontSize:14}})
];

function line(name, data, xi, yi, color, width, extra) {
  return Object.assign({
    type:'line', name, data, xAxisIndex:xi, yAxisIndex:yi, symbol:'none', showSymbol:false,
    lineStyle:{color, width}, itemStyle:{color}, silent:true, animation:false
  }, extra || {});
}
const off = 0.265;
function bars(name, vals, shift, color, opacity) {
  return {type:'bar', name, xAxisIndex:3, yAxisIndex:3, barWidth:7.6, barGap:'-100%',
    data: vals.map((v, i) => [i + shift, v]),
    itemStyle:{color, opacity}, silent:true, animation:false};
}
const noLbl = {show:false};

const series = [
  // cumulative
  line('Strategy (Net)|c', cumStrategyNet, 0, 0, C_STRAT, 2.8),
  line('Strategy (Gross)|c', cumStrategyGross, 0, 0, C_GROSS, 1.6, {lineStyle:{color:C_GROSS, width:1.6, type:[5,3]}}),
  line('SPY B&H|c', cumSPY, 0, 0, C_SPY, 2.7),
  line('QQQ B&H|c', cumQQQ, 0, 0, C_QQQ, 2.7),
  // drawdowns
  line('Strategy|dd', ddStrategy, 1, 1, '#6BB3F2', 0.9, {areaStyle:{color:'rgba(33,150,243,0.45)', origin:0}}),
  line('SPY|dd', ddSPY, 1, 1, C_SPY, 1.6, {lineStyle:{color:C_SPY, width:1.6, opacity:0.9}}),
  line('QQQ|dd', ddQQQ, 1, 1, C_QQQ, 1.6, {lineStyle:{color:C_QQQ, width:1.6, opacity:0.9}}),
  // rolling sharpe
  line('Strategy|rs', sharpeStrategy, 2, 2, C_STRAT, 2.6),
  line('SPY|rs', sharpeSPY, 2, 2, C_SPY, 1.8, {lineStyle:{color:C_SPY, width:1.8, opacity:0.8}}),
  line('QQQ|rs', sharpeQQQ, 2, 2, C_QQQ, 1.8, {lineStyle:{color:C_QQQ, width:1.8, opacity:0.8},
    markLine:{silent:true, symbol:'none', label:noLbl, animation:false,
      data:[{yAxis:0, lineStyle:{color:'#000', width:1.2, type:[4,2]}},
            {yAxis:1, lineStyle:{color:'#2E8B2E', width:1, type:[1.5,2]}}]}}),
  // annual
  bars('Strategy|ar', annualStrategy, -off, C_STRAT, 0.88),
  bars('SPY|ar', annualSPY, 0, C_SPY, 0.75),
  Object.assign(bars('QQQ|ar', annualQQQ, off, C_QQQ, 0.75), {
    markLine:{silent:true, symbol:'none', label:noLbl, animation:false,
      data:[{yAxis:0, lineStyle:{color:'#000', width:1.4, type:'solid'}}]}}),
  // regime & leverage
  line('Regime (L)|rg', regimeSteps, 4, 4, '#800080', 1.8, {step:'end'}),
  line('Leverage (R)|rg', leverageSteps, 4, 5, '#4682B4', 1.6, {step:'end', lineStyle:{color:'#4682B4', width:1.6, type:[5,3]}}),
  // scatter
  {type:'scatter', name:'QQQ up days', xAxisIndex:5, yAxisIndex:6, data:qqqUpDays, symbolSize:5, silent:true, animation:false,
   itemStyle:{color:'rgba(76,175,80,0.36)', borderColor:'rgba(76,175,80,0.55)', borderWidth:0.7}},
  {type:'scatter', name:'QQQ down days', xAxisIndex:5, yAxisIndex:6, data:qqqDownDays, symbolSize:5, silent:true, animation:false,
   itemStyle:{color:'rgba(255,87,34,0.36)', borderColor:'rgba(255,87,34,0.55)', borderWidth:0.7}},
  line('1:1 line', [[-SCAT_LIM,-SCAT_LIM],[SCAT_LIM,SCAT_LIM]], 5, 6, '#808080', 1, {lineStyle:{color:'#808080', width:1, type:[1.5,1.5]},
    markLine:{silent:true, symbol:'none', label:noLbl, animation:false,
      data:[{yAxis:0, lineStyle:{color:'#000', width:0.8, type:'solid'}},
            {xAxis:0, lineStyle:{color:'#000', width:0.8, type:'solid'}}]}})
];

const strip = n => n.split('|')[0];
const noSym = name => ({name, itemStyle:{opacity:0}});
function legend(o) {
  return Object.assign({orient:'vertical', itemGap:0, formatter:strip, selectedMode:false,
    textStyle:{color:TXT, fontFamily:FONT, fontSize:13.8}}, o);
}
const legends = [
  legend({left:59, top:299, itemWidth:30, itemHeight:10,
    textStyle:{color:TXT, fontFamily:FONT, fontSize:13.8, lineHeight:21.2, padding:[0,0,0,5]},
    data:['Strategy (Net)|c','Strategy (Gross)|c','SPY B&H|c','QQQ B&H|c'].map(noSym)}),
  legend({left:60, top:906, itemWidth:28, itemHeight:10,
    textStyle:{color:TXT, fontFamily:FONT, fontSize:13.8, lineHeight:21, padding:[0,0,0,6]},
    data:[{name:'Strategy|dd', icon:'rect', itemStyle:{color:'rgba(33,150,243,0.45)', borderColor:'#6BB3F2', borderWidth:1}}, noSym('SPY|dd'), noSym('QQQ|dd')]}),
  legend({left:548, top:1320, itemWidth:26, itemHeight:10,
    textStyle:{color:TXT, fontFamily:FONT, fontSize:12.4, lineHeight:18, padding:[0,0,0,4]},
    data:['Strategy|rs','SPY|rs','QQQ|rs'].map(noSym)}),
  legend({left:1360, top:1112, itemWidth:22, itemHeight:8,
    textStyle:{color:TXT, fontFamily:FONT, fontSize:10.8, lineHeight:15.5, padding:[0,0,0,4]},
    data:[{name:'Strategy|ar', icon:'rect'},{name:'SPY|ar', icon:'rect'},{name:'QQQ|ar', icon:'rect'}]}),
  legend({left:57, top:1515, itemWidth:23, itemHeight:10,
    textStyle:{color:TXT, fontFamily:FONT, fontSize:11, lineHeight:16, padding:[0,0,0,4]},
    data:[noSym('Regime (L)|rg')]}),
  legend({left:535, top:1515, itemWidth:23, itemHeight:10,
    textStyle:{color:TXT, fontFamily:FONT, fontSize:11, lineHeight:16, padding:[0,0,0,4]},
    data:[noSym('Leverage (R)|rg')]}),
  legend({left:859, top:1515, itemWidth:22, itemHeight:5,
    textStyle:{color:TXT, fontFamily:FONT, fontSize:11, lineHeight:15.7, padding:[0,0,0,4]},
    data:[{name:'QQQ up days', itemStyle:{opacity:0.4}},{name:'QQQ down days', itemStyle:{opacity:0.4}}, noSym('1:1 line')]})
];

function title(text, x, y, size) {
  return {type:'text', x, y, silent:true,
    style:{text, fill:TXT, font:'bold ' + size + 'px ' + FONT, align:'center', verticalAlign:'middle'}};
}
const graphic = [
  title('Systematic Trend Following \u2014 Backtest Dashboard', 726, 20, 22),
  title('Cumulative Returns \u2014 log scale (base=100)', 744, 283, 20),
  title('Drawdowns', 744, 687, 18),
  title('Rolling 1Y Sharpe', 344, 1093, 16.5),
  title('Annual Returns', 1145, 1093, 16.5),
  title('Regime & Leverage (single gate)', 344, 1499, 16.5),
  title('Strategy vs QQQ daily scatter', 1145, 1499, 16.5)
];

chart.setOption({
  animation:false,
  backgroundColor:'#ffffff',
  textStyle:{fontFamily:FONT},
  grid, xAxis, yAxis, series, legend:legends, graphic
});
</script></body></html>
